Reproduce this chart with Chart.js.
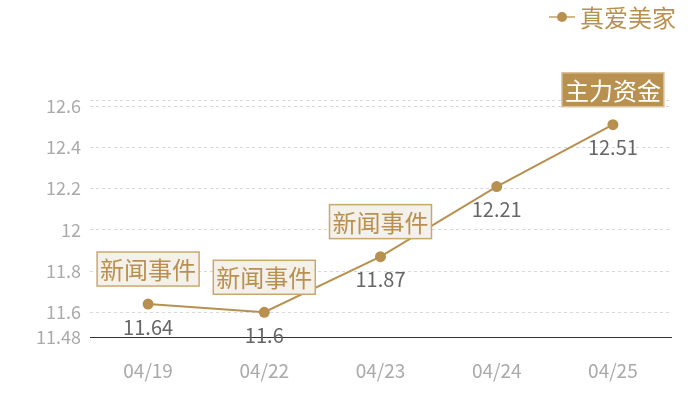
<!DOCTYPE html>
<html>
<head>
<meta charset="utf-8">
<script src="https://cdn.jsdelivr.net/npm/chart.js@4"></script>
<style>
  html, body { margin: 0; padding: 0; background: #fff; }
  #wrap { width: 700px; height: 400px; }
</style>
</head>
<body>
<div id="wrap"><canvas id="myChart"></canvas></div>
<script>
const dates = ['04/19', '04/22', '04/23', '04/24', '04/25'];
const prices = [11.64, 11.6, 11.87, 12.21, 12.51];
const tags = ['新闻事件', '新闻事件', '新闻事件', '', '主力资金'];
const yTicks = [11.48, 11.6, 11.8, 12, 12.2, 12.4, 12.6, 12.63];
const seriesName = '真爱美家';

const gold = '#b8904f';
const font = '"Noto Sans CJK SC", "Noto Sans", sans-serif';

const labelPlugin = {
    id: 'labels',
    afterDatasetsDraw(chart) {
        const ctx = chart.ctx;
        const meta = chart.getDatasetMeta(0);
        ctx.save();
        meta.data.forEach((pt, i) => {
            // value under the point
            ctx.font = '20px ' + font;
            ctx.fillStyle = '#666';
            ctx.textAlign = 'center';
            ctx.textBaseline = 'middle';
            ctx.fillText(String(prices[i]), pt.x, pt.y + 23);

            if (!tags[i]) return;
            ctx.font = '24px ' + font;
            const w = ctx.measureText(tags[i]).width + 6;
            const h = 34;
            const x = pt.x - w / 2;
            const y = pt.y - 18 - h;
            const main = tags[i] == '主力资金';
            ctx.fillStyle = main ? gold : '#f4f0ea';
            ctx.fillRect(x, y, w, h);
            ctx.strokeStyle = main ? '#d9c29b' : '#c9a870';
            ctx.lineWidth = 1.5;
            ctx.strokeRect(x, y, w, h);
            ctx.fillStyle = main ? '#fff' : gold;
            ctx.fillText(tags[i], pt.x, y + h / 2 + 1);
        });

        // legend
        ctx.strokeStyle = '#d2b88c';
        ctx.lineWidth = 2;
        ctx.beginPath();
        ctx.moveTo(549, 17);
        ctx.lineTo(575, 17);
        ctx.stroke();
        ctx.fillStyle = gold;
        ctx.beginPath();
        ctx.arc(562, 17, 5, 0, Math.PI * 2);
        ctx.fill();
        ctx.font = '24px ' + font;
        ctx.textAlign = 'left';
        ctx.textBaseline = 'middle';
        ctx.fillText(seriesName, 580, 18);
        ctx.restore();
    }
};

new Chart(document.getElementById('myChart'), {
    type: 'line',
    data: {
        labels: dates,
        datasets: [{
            label: seriesName,
            data: prices,
            borderColor: gold,
            backgroundColor: gold,
            borderWidth: 2,
            pointRadius: 4.5,
            pointHoverRadius: 4.5,
            fill: false,
            tension: 0
        }]
    },
    plugins: [labelPlugin],
    options: {
        responsive: true,
        maintainAspectRatio: false,
        animation: false,
        layout: { padding: { top: 100, right: 29, left: 0, bottom: 0 } },
        plugins: {
            legend: { display: false },
            tooltip: { enabled: false }
        },
        scales: {
            x: {
                offset: true,
                grid: { display: false, drawTicks: false },
                border: { display: true, color: '#333', width: 1 },
                ticks: { color: '#aaa', font: { size: 19, family: font }, padding: 22 },
                afterFit(scale) { scale.height = 63; }
            },
            y: {
                min: 11.48,
                max: 12.63,
                afterBuildTicks(scale) {
                    scale.ticks = yTicks.map(v => ({ value: v }));
                },
                grid: { color: '#d8d8d8', drawTicks: false },
                border: { display: false, dash: [3, 3] },
                ticks: {
                    color: '#aaa',
                    font: { size: 18, family: font },
                    padding: 9,
                    callback: v => (v == 12.63 ? '' : String(Math.round(v * 100) / 100))
                },
                afterFit(scale) { scale.width = 90; }
            }
        }
    }
});
</script>
</body>
</html>
